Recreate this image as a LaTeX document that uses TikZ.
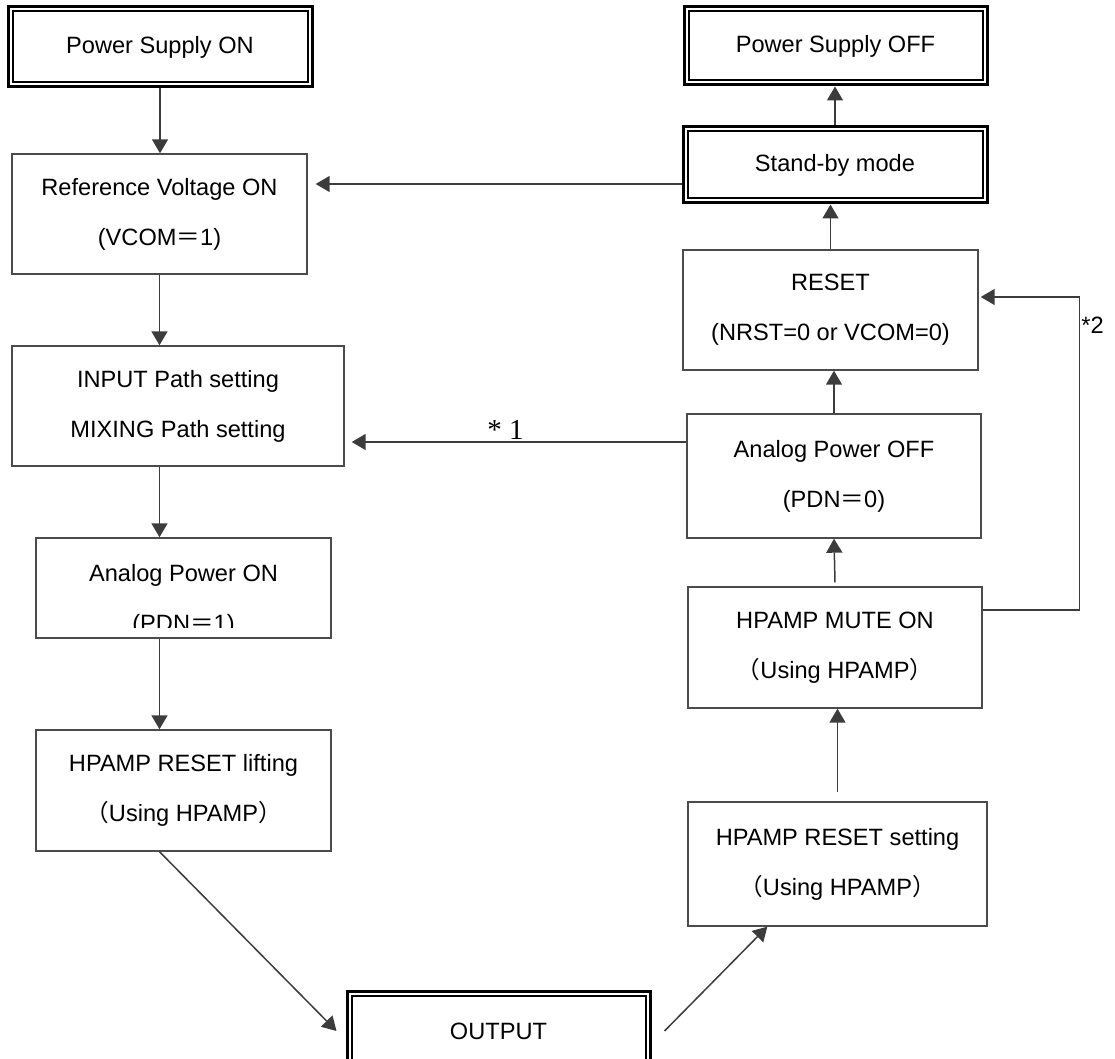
\documentclass[tikz,border=0pt]{standalone}
\usepackage{fontspec}
\setmainfont{Liberation Sans}
\newfontfamily\cjk{Noto Sans CJK JP}
\newfontfamily\numserif{Liberation Serif}
\usepackage{tikz}
\usetikzlibrary{arrows.meta,positioning,calc}
\usepackage{xcolor}
\definecolor{ink}{RGB}{60,60,60}
\definecolor{edge}{RGB}{75,75,75}
\tikzset{
  stage/.style={draw=edge,line width=0.7pt,fill=white,inner sep=0pt,align=center,
    font=\fontsize{11.8}{25}\selectfont},
  term/.style={draw=black,line width=1.5pt,fill=white,inner sep=0pt,align=center,
    font=\fontsize{11.8}{25}\selectfont,
    path picture={\draw[black,line width=1pt]
      ([shift={(2.25pt,2.25pt)}]path picture bounding box.south west) rectangle
      ([shift={(-2.25pt,-2.25pt)}]path picture bounding box.north east);}},
  arr/.style={-{Triangle[length=7pt,width=8pt]},line width=0.75pt,ink},
  tag/.style={font=\fontsize{11.8}{14}\selectfont,text=black,inner sep=1pt},
}
\newcommand{\fw}[1]{{\cjk #1}}

\begin{document}
\begin{tikzpicture}[x=0.5pt,y=-0.5pt]
\useasboundingbox (0,0) rectangle (1115,1059);
% left column
\node[term,minimum width=152pt,minimum height=40pt] (pson) at (160,47) {Power Supply ON};
\node[stage,minimum width=147.5pt,minimum height=60pt] (refv) at (159.5,214)
  {Reference Voltage ON\\(VCOM\fw{＝}1)};
\node[stage,minimum width=166pt,minimum height=60pt] (input) at (178,406)
  {INPUT Path setting\\MIXING Path setting};
\node[stage,minimum width=147.5pt,minimum height=50pt] (apon) at (183.5,588) {};
\begin{scope}
  \clip (apon.north west) rectangle ([yshift=5.5pt]apon.south east);
  \node[stage,draw=none,fill=none] (aponlab) at ([yshift=-6pt]apon.center)
    {Analog Power ON\\(PDN\fw{＝}1)};
\end{scope}
\node[stage,minimum width=147.5pt,minimum height=60.5pt] (hplift) at (183.5,790.5)
  {HPAMP RESET lifting\\\fw{（}Using HPAMP\fw{）}};
\node[term,minimum width=151.5pt,minimum height=40pt] (output) at (498.5,1031) {OUTPUT};
% right column
\node[term,minimum width=151.5pt,minimum height=39pt] (psoff) at (835.5,46) {Power Supply OFF};
\node[term,minimum width=152pt,minimum height=38pt] (standby) at (835,165) {Stand-by mode};
\node[stage,minimum width=147.5pt,minimum height=60pt] (reset) at (830.5,310)
  {RESET\\(NRST=0 or VCOM=0)};
\node[stage,minimum width=147pt,minimum height=62pt] (apoff) at (834,476)
  {Analog Power OFF\\(PDN\fw{＝}0)};
\node[stage,minimum width=147pt,minimum height=60.5pt] (mute) at (835,647.5)
  {HPAMP MUTE ON\\\fw{（}Using HPAMP\fw{）}};
\node[stage,minimum width=149.5pt,minimum height=62pt] (hpset) at (837.5,864)
  {HPAMP RESET setting\\\fw{（}Using HPAMP\fw{）}};

% connectors, left side down
\draw[arr] (pson.south) -- (pson.south |- refv.north);
\draw[arr] (refv.south) -- (refv.south |- input.north);
\draw[arr] (refv.south |- input.south) -- (refv.south |- apon.north);
\draw[arr] (refv.south |- apon.south) -- (refv.south |- hplift.north);
\draw[arr] (refv.south |- hplift.south) -- ([xshift=-4.5pt]output.west);
% right side up
\draw[arr] ([xshift=6.5pt]output.east) -- ([xshift=40pt]hpset.south west);
\coordinate (setout) at ([yshift=4.5pt]hpset.north);
\draw[arr] (setout) -- (setout |- mute.south);
\draw[arr] ([yshift=2pt]mute.north) -- (apoff.south);
\draw[arr] (apoff.north) -- (apoff.north |- reset.south);
\draw[arr] (reset.north) -- (reset.north |- standby.south);
\draw[arr] (standby.north) -- (standby.north |- psoff.south);
% returns
\coordinate (sbout) at ([yshift=-9.5pt]standby.west);
\coordinate (rvin) at ([xshift=4pt]refv.east);
\draw[arr] (sbout) -- (rvin |- sbout);
\coordinate (offout) at ([yshift=17pt]apoff.west);
\coordinate (inin) at ([xshift=3.5pt]input.east);
\draw[arr] (offout) -- node[pos=0.54,above=0pt,tag,font=\fontsize{14.5}{16}\selectfont] (t1)
  {\numserif * 1} (inin |- offout);
\coordinate (muteout) at ([yshift=18.75pt]mute.east);
\coordinate (rsin) at ([xshift=1pt,yshift=6.5pt]reset.east);
\draw[arr] (muteout) -- ++(97,0) |- node[pos=0.455,right=-0.5pt,tag] (t2) {*2} (rsin);
\end{tikzpicture}
\end{document}
